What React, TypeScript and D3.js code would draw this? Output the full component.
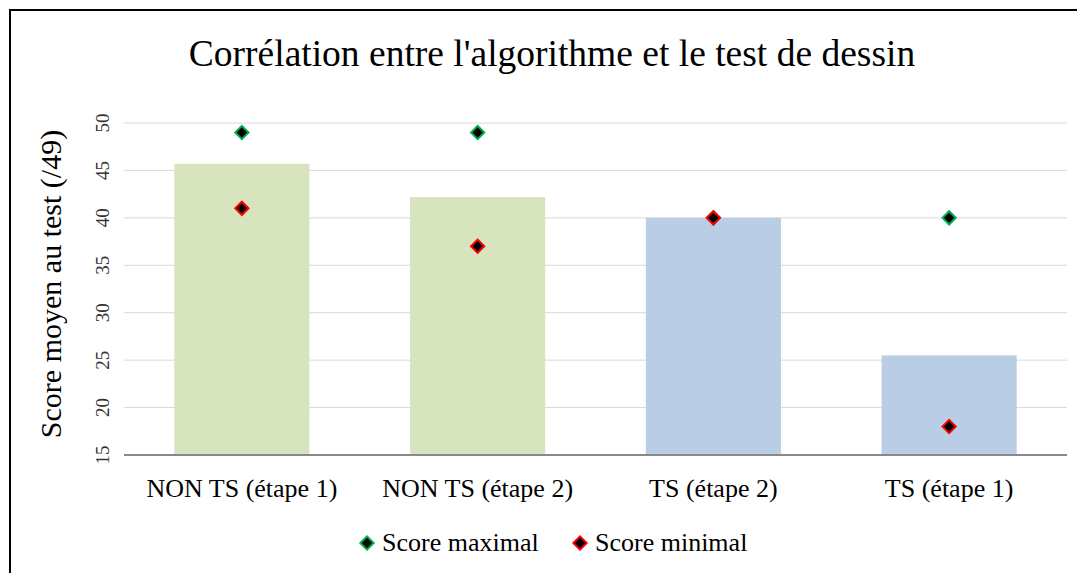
import React, { useEffect, useRef } from 'react';
import * as d3 from 'd3';

const categories = ['NON TS (étape 1)', 'NON TS (étape 2)', 'TS (étape 2)', 'TS (étape 1)'];
const meanScores = [45.7, 42.2, 40, 25.5];
const maxScores = [49, 49, 40, 40];
const minScores = [41, 37, 40, 18];
const barColors = ['#d7e4bd', '#d7e4bd', '#b9cde5', '#b9cde5'];
const yTicks = [15, 20, 25, 30, 35, 40, 45, 50];

const FONT = '"Liberation Serif", "Times New Roman", serif';

const App = () => {
  const svgRef = useRef<SVGSVGElement | null>(null);

  useEffect(() => {
    if (!svgRef.current) return;
    const W = 1077;
    const H = 565;
    const svg = d3.select(svgRef.current);
    svg.selectAll('*').remove();

    // outer frame (extends beyond the viewport on right/bottom)
    svg.append('rect')
      .attr('x', 2).attr('y', 2)
      .attr('width', W + 20).attr('height', H + 20)
      .attr('fill', '#fff')
      .attr('stroke', '#000')
      .attr('stroke-width', 2);

    const margin = { left: 116, right: 10, top: 115, bottom: 118 };
    const width = 1059 - margin.left;
    const height = 447 - margin.top;

    const g = svg.append('g').attr('transform', `translate(${margin.left},${margin.top})`);

    const x = d3.scaleBand().domain(categories).range([0, width]).paddingInner(0.427).paddingOuter(0.2135);
    const y = d3.scaleLinear().domain([15, 50]).range([height, 0]);

    // gridlines
    g.selectAll('.grid')
      .data(yTicks.filter(t => t !== 15))
      .enter()
      .append('line')
      .attr('x1', 0).attr('x2', width)
      .attr('y1', d => y(d)).attr('y2', d => y(d))
      .attr('stroke', '#d9d9d9')
      .attr('stroke-width', 1);

    // y tick labels (rotated)
    g.selectAll('.ytick')
      .data(yTicks)
      .enter()
      .append('text')
      .attr('transform', d => `translate(${-15},${y(d)}) rotate(-90)`)
      .attr('text-anchor', 'middle')
      .attr('font-family', FONT)
      .attr('font-size', 19)
      .attr('fill', '#333')
      .text(d => d);

    // bars
    g.selectAll('.bar')
      .data(categories)
      .enter()
      .append('rect')
      .attr('x', d => x(d) as number)
      .attr('width', x.bandwidth())
      .attr('y', (d, i) => y(meanScores[i]))
      .attr('height', (d, i) => height - y(meanScores[i]))
      .attr('fill', (d, i) => barColors[i]);

    // x axis line
    g.append('line')
      .attr('x1', 0).attr('x2', width)
      .attr('y1', height).attr('y2', height)
      .attr('stroke', '#898989')
      .attr('stroke-width', 2);

    // category labels
    g.selectAll('.xlabel')
      .data(categories)
      .enter()
      .append('text')
      .attr('x', d => (x(d) as number) + x.bandwidth() / 2)
      .attr('y', height + 42)
      .attr('text-anchor', 'middle')
      .attr('font-family', FONT)
      .attr('font-size', 26)
      .attr('fill', '#000')
      .text(d => d);

    const diamond = d3.symbol().type(d3.symbolSquare).size(88);

    const drawMarkers = (vals: number[], color: string) => {
      g.selectAll(null)
        .data(vals)
        .enter()
        .append('path')
        .attr('d', diamond)
        .attr('transform', (d, i) => `translate(${(x(categories[i]) as number) + x.bandwidth() / 2},${y(d)}) rotate(45)`)
        .attr('fill', '#000')
        .attr('stroke', color)
        .attr('stroke-width', 2);
    };
    drawMarkers(maxScores, '#00b050');
    drawMarkers(minScores, '#ff0000');

    // title
    svg.append('text')
      .attr('x', 544)
      .attr('y', 58)
      .attr('text-anchor', 'middle')
      .attr('font-family', FONT)
      .attr('font-size', 37.5)
      .attr('fill', '#000')
      .text("Corrélation entre l'algorithme et le test de dessin");

    // y axis title
    svg.append('text')
      .attr('transform', `translate(${53},${276}) rotate(-90)`)
      .attr('text-anchor', 'middle')
      .attr('font-family', FONT)
      .attr('font-size', 30)
      .attr('fill', '#000')
      .text('Score moyen au test (/49)');

    // legend
    const legendItems = [
      { label: 'Score maximal', color: '#00b050', x: 359 },
      { label: 'Score minimal', color: '#ff0000', x: 572 },
    ];
    const legend = svg.append('g').attr('transform', 'translate(0,535)');
    legendItems.forEach(item => {
      legend.append('path')
        .attr('d', diamond)
        .attr('transform', `translate(${item.x},0) rotate(45)`)
        .attr('fill', '#000')
        .attr('stroke', item.color)
        .attr('stroke-width', 2);
      legend.append('text')
        .attr('x', item.x + 15)
        .attr('y', 8)
        .attr('font-family', FONT)
        .attr('font-size', 26)
        .attr('fill', '#000')
        .text(item.label);
    });
  }, []);

  return <svg ref={svgRef} width={1077} height={565} style={{ display: 'block' }} />;
};

export default App;
